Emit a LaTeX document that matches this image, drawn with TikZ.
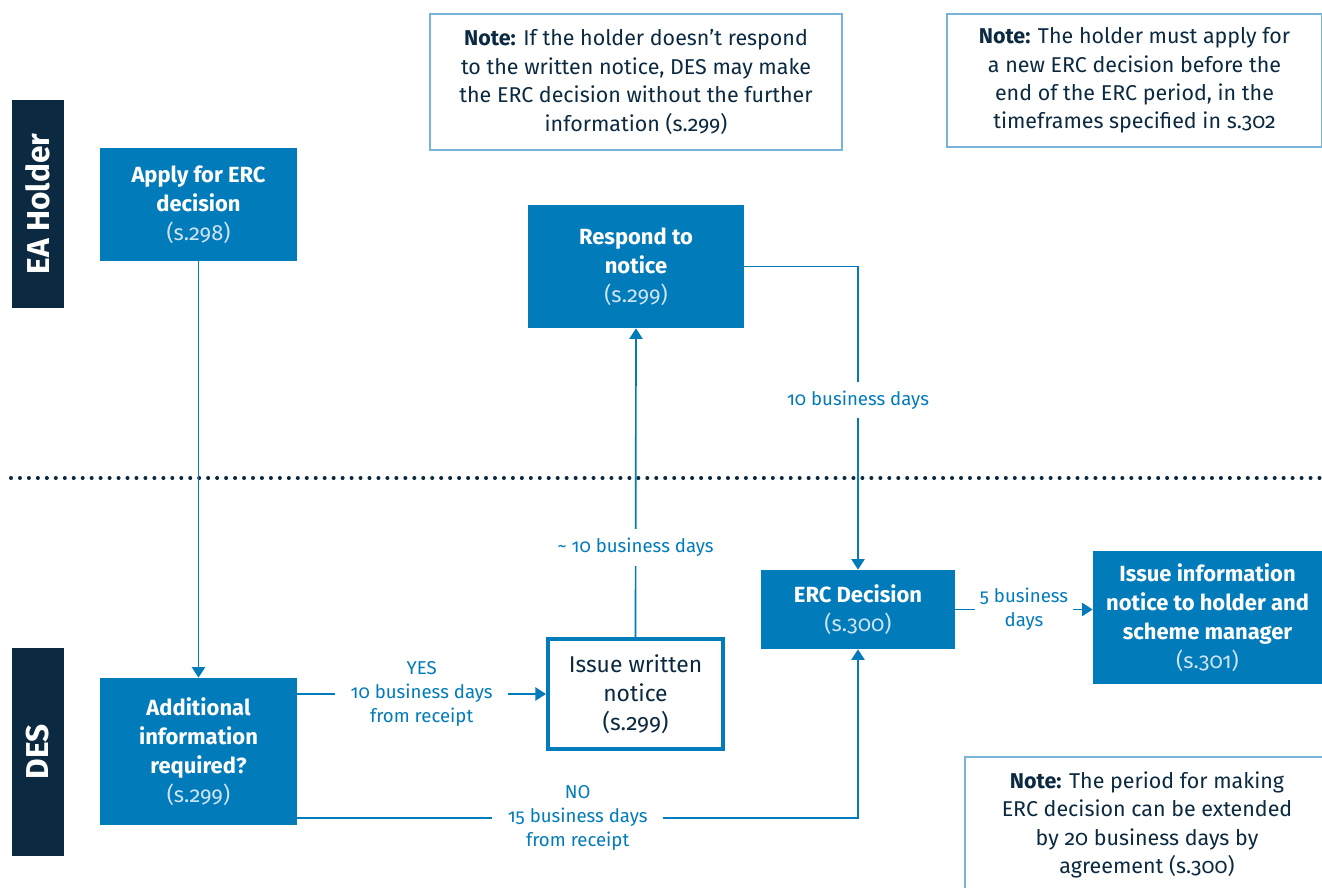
\documentclass[tikz,border=0pt]{standalone}
\usepackage{fontspec}
\setmainfont{Fira Sans}[Numbers=OldStyle]
\usepackage{xcolor}
\definecolor{ercblue}{RGB}{2,123,187}
\definecolor{navy}{RGB}{11,41,64}
\definecolor{noteline}{RGB}{120,180,218}
\definecolor{paleblue}{RGB}{205,228,243}
\usetikzlibrary{arrows.meta,positioning}
\newcommand{\secno}[1]{{\mdseries\color{paleblue}(s.#1)}}

\begin{document}
\begin{tikzpicture}[
    lane/.style={rectangle, fill=navy, text=white, minimum width=4.16cm, minimum height=1.04cm, font=\fontsize{18}{21}\selectfont\bfseries, rotate=90},
    block/.style={rectangle, fill=ercblue, text=white, align=center, font=\fontsize{12.5}{16.5}\selectfont\bfseries, inner sep=0pt},
    notice/.style={rectangle, draw=ercblue, line width=2.3pt, fill=white, text=navy, align=center, font=\fontsize{13}{16.5}\selectfont, inner sep=0pt},
    note/.style={rectangle, draw=noteline, line width=1pt, fill=white, text=navy, align=center, font=\fontsize{12.2}{16.2}\selectfont, inner sep=0pt},
    line/.style={draw=ercblue, line width=0.95pt, -{Triangle[width=7.5pt,length=6pt]}},
    lbl/.style={fill=white, text=ercblue, align=center, font=\fontsize{10.6}{13.8}\selectfont, inner xsep=9pt, inner ysep=5pt}
  ]
    \useasboundingbox (0,0) rectangle (26.44,-17.76);

    % Swim lanes
    \node [lane] (holder) at (0.76,-4.08) {EA Holder};
    \node [lane] (des) at (0.76,-15.04) {DES};
    \draw [navy, line width=2.3pt, line cap=round, dash pattern=on 0pt off 5.1pt] (0.22,-9.56) -- (26.44,-9.56);

    % Notes
    \node [note, minimum width=8.24cm, minimum height=2.72cm] (note1) at (12.72,-1.64)
      {\textbf{Note:} If the holder doesn’t respond\\to the written notice, DES may make\\the ERC decision without the further\\information (s.299)};
    \node [note, minimum width=7.5cm, minimum height=2.66cm] (note2) at (22.69,-1.61)
      {\textbf{Note:} The holder must apply for\\a new ERC decision before the\\end of the ERC period, in the\\timeframes specified in s.302};
    \node [note, minimum width=7.28cm, minimum height=2.72cm] (note3) at (22.94,-16.5)
      {\textbf{Note:} The period for making\\ERC decision can be extended\\by 20 business days by\\agreement (s.300)};

    % Process steps
    \node [block, minimum width=3.94cm, minimum height=2.26cm] (apply) at (3.97,-4.09)
      {Apply for ERC\\decision\\\secno{298}};
    \node [block, minimum width=4.32cm, minimum height=2.46cm] (respond) at (12.72,-5.33)
      {Respond to\\notice\\\secno{299}};
    \node [block, minimum width=3.94cm, minimum height=2.94cm] (additional) at (3.97,-15.03)
      {Additional\\information\\required?\\\secno{299}};
    \node [notice, minimum width=3.5cm, minimum height=2.2cm] (written) at (12.71,-13.88)
      {Issue written\\notice\\(s.299)};
    \node [block, minimum width=3.88cm, minimum height=1.58cm] (decision) at (17.16,-12.19)
      {ERC Decision\\\secno{300}};
    \node [block, minimum width=4.58cm, minimum height=2.66cm] (infonotice) at (24.15,-12.35)
      {Issue information\\notice to holder and\\scheme manager\\\secno{301}};

    % Connectors
    \path [line] (apply.south) -- (additional.north);
    \path [line] (written.west -| additional.east) -- node [lbl] {YES\\10 business days\\from receipt} (written.west);
    \path [line] ([yshift=-1.33cm]additional.east) -| node [lbl, pos=0.25] {NO\\15 business days\\from receipt} (decision.south);
    \path [line] (written.north) -- node [lbl, pos=0.29] {\textasciitilde{} 10 business days} (respond.south);
    \path [line] (respond.east) -| node [lbl, pos=0.72] {10 business days} (decision.north);
    \path [line] (decision.east) -- node [lbl, inner xsep=3pt] {5 business\\days} (decision.east -| infonotice.west);

\end{tikzpicture}
\end{document}
